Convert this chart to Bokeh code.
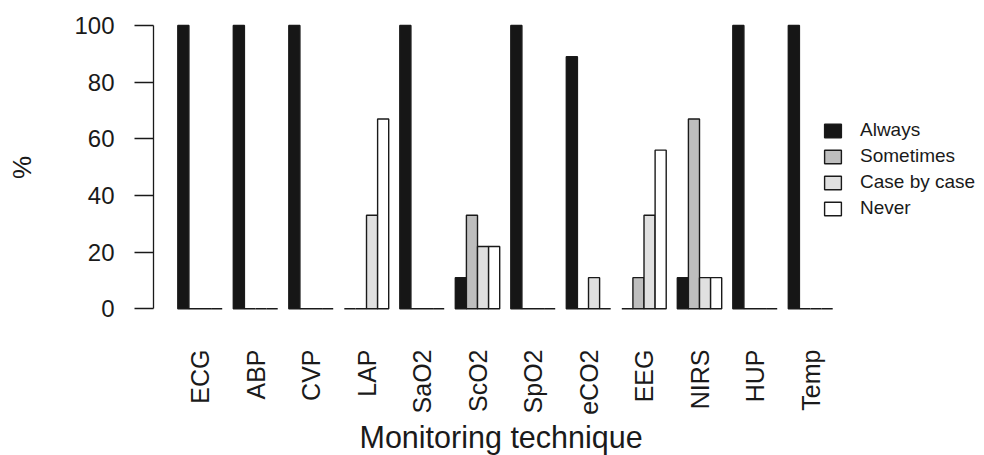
import math
from bokeh.plotting import figure
from bokeh.models import Range1d, FixedTicker, Legend, LegendItem, Title
from bokeh.embed import file_html
from bokeh.resources import INLINE

# ---- data ----
categories = ["ECG", "ABP", "CVP", "LAP", "SaO2", "ScO2", "SpO2", "eCO2", "EEG", "NIRS", "HUP", "Temp"]
always     = [100, 100, 100, 0, 100, 11, 100, 89, 0, 11, 100, 100]
sometimes  = [0, 0, 0, 0, 0, 33, 0, 0, 11, 67, 0, 0]
case_by_case = [0, 0, 0, 33, 0, 22, 0, 11, 33, 11, 0, 0]
never      = [0, 0, 0, 67, 0, 22, 0, 0, 56, 11, 0, 0]
series_names = ["Always", "Sometimes", "Case by case", "Never"]
y_ticks = [0, 20, 40, 60, 80, 100]

series = [always, sometimes, case_by_case, never]
fills = ["#161616", "#bebebe", "#e0e0e0", "#ffffff"]
n_ser = len(series)
group_w = n_ser + 1  # bars plus one space (R barplot beside=TRUE)

# ---- geometry ----
W, H = 976, 455
left_b, top_b, bottom_b = 153, 14, 135
frame_w = W - left_b
frame_h = H - top_b - bottom_b
px_unit = 11.1
x_start = -1.19
x_end = x_start + frame_w / px_unit
py_unit = 2.833
y_end = 100 + (25 - top_b) / py_unit
y_start = -(top_b + frame_h - 308.3) / py_unit

p = figure(width=W, height=H, output_backend="svg", toolbar_location=None,
           x_range=Range1d(x_start, x_end), y_range=Range1d(y_start, y_end),
           min_border_left=left_b, min_border_right=0, min_border_top=top_b,
           min_border_bottom=bottom_b, background_fill_color="white",
           border_fill_color="white", outline_line_color=None)
p.xgrid.visible = False
p.ygrid.visible = False

renderers = []
for k, (vals, col) in enumerate(zip(series, fills)):
    xs = [1 + group_w * i + k + 0.5 for i in range(len(categories))]
    r = p.vbar(x=xs, top=vals, bottom=0, width=1.0, fill_color=col,
               line_color="#1a1a1a", line_width=1.4)
    renderers.append(r)

# y axis
ya = p.yaxis[0]
ya.ticker = FixedTicker(ticks=y_ticks)
ya.bounds = (min(y_ticks), max(y_ticks))
ya.axis_line_color = "#1a1a1a"
ya.axis_line_width = 1.3
ya.major_tick_line_color = "#1a1a1a"
ya.major_tick_line_width = 1.3
ya.major_tick_in = 0
ya.major_tick_out = 19
ya.minor_tick_line_color = None
ya.major_label_standoff = 20
ya.major_label_text_font = "Liberation Sans"
ya.major_label_text_font_size = "24px"
ya.major_label_text_color = "#1a1a1a"
ya.axis_label = "%"
ya.axis_label_text_font = "Liberation Sans"
ya.axis_label_text_font_style = "normal"
ya.axis_label_text_font_size = "26px"
ya.axis_label_text_color = "#1a1a1a"
ya.axis_label_standoff = 34

# x axis (category labels)
centers = [1 + group_w * i + n_ser / 2 for i in range(len(categories))]
xa = p.xaxis[0]
xa.ticker = FixedTicker(ticks=centers)
xa.major_label_overrides = {c: name for c, name in zip(centers, categories)}
xa.major_label_orientation = math.pi / 2
xa.axis_line_color = None
xa.major_tick_line_color = None
xa.major_tick_in = 0
xa.major_tick_out = 0
xa.minor_tick_line_color = None
xa.minor_tick_out = 0
xa.major_label_standoff = 29
xa.major_label_text_font = "Liberation Sans"
xa.major_label_text_font_size = "25px"
xa.major_label_text_color = "#1a1a1a"

# x axis title, centred under the bars
p.add_layout(Title(text="Monitoring technique", align="left", offset=206,
                   text_font="Liberation Sans", text_font_style="normal",
                   text_font_size="30.5px", text_color="#1a1a1a", standoff=0), "below")

legend = Legend(items=[LegendItem(label=n, renderers=[r]) for n, r in zip(series_names, renderers)],
                location=(669, 101), glyph_width=21, glyph_height=17, label_standoff=17,
                spacing=4, padding=0, margin=0, border_line_alpha=0,
                background_fill_alpha=0, label_text_font="Liberation Sans",
                label_text_font_size="19px", label_text_color="#1a1a1a")
p.add_layout(legend)

open("out.html", "w").write(file_html(p, INLINE))
